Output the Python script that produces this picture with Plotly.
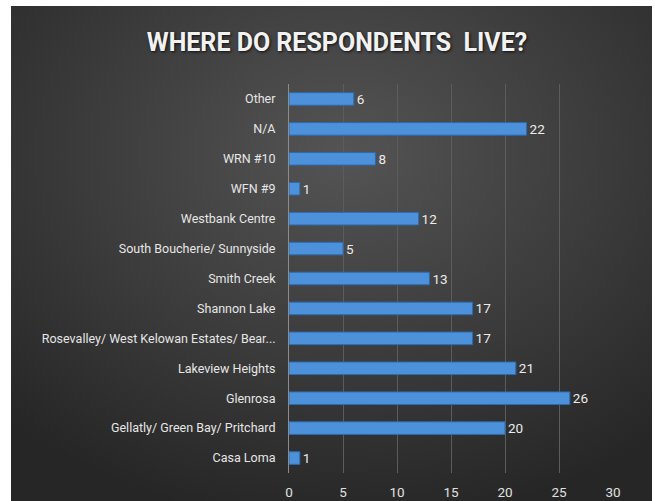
import base64
import plotly.graph_objects as go

# Survey responses by neighbourhood (top to bottom as displayed)
areas = [
    "Other",
    "N/A",
    "WRN #10",
    "WFN #9",
    "Westbank Centre",
    "South Boucherie/ Sunnyside",
    "Smith Creek",
    "Shannon Lake",
    "Rosevalley/ West Kelowan Estates/ Bear...",
    "Lakeview Heights",
    "Glenrosa",
    "Gellatly/ Green Bay/ Pritchard",
    "Casa Loma",
]
counts = [6, 22, 8, 1, 12, 5, 13, 17, 17, 21, 26, 20, 1]
x_ticks = [0, 5, 10, 15, 20, 25, 30]

W, H = 655, 501
L, R, T, B = 289, 613, 84, 473  # plot area in pixels

def px_to_paper_x(px):
    return (px - L) / (R - L)

def px_to_paper_y(py):
    return (B - py) / (B - T)

# dark radial-gradient backdrop for the chart area
svg = (
    '<svg xmlns="http://www.w3.org/2000/svg" width="641" height="495" '
    'preserveAspectRatio="none" viewBox="0 0 641 495">'
    '<defs><radialGradient id="g" cx="0.52" cy="0.3" r="0.75">'
    '<stop offset="0" stop-color="#545454"/>'
    '<stop offset="0.55" stop-color="#3b3b3b"/>'
    '<stop offset="1" stop-color="#262626"/>'
    '</radialGradient></defs>'
    '<rect width="641" height="495" fill="url(#g)"/></svg>'
)
bg_src = "data:image/svg+xml;base64," + base64.b64encode(svg.encode()).decode()

label_font = "Roboto, sans-serif"

fig = go.Figure(
    go.Bar(
        x=counts,
        y=areas,
        orientation="h",
        width=0.42,
        marker=dict(color="#4c91da", line=dict(color="#2c6bb0", width=1)),
        text=[str(c) for c in counts],
        textposition="outside",
        constraintext="none",
        textfont=dict(color="#ebebeb", size=13.5, family=label_font),
        cliponaxis=False,
        hoverinfo="x+y",
    )
)

x0, x1 = px_to_paper_x(11), px_to_paper_x(652)
y0, y1 = px_to_paper_y(6), px_to_paper_y(501)
fig.add_layout_image(
    dict(
        source=bg_src,
        xref="paper",
        yref="paper",
        x=x0,
        y=y0,
        sizex=x1 - x0,
        sizey=y0 - y1,
        xanchor="left",
        yanchor="top",
        sizing="stretch",
        layer="below",
    )
)

fig.update_layout(
    width=W,
    height=H,
    margin=dict(l=L, r=W - R, t=T, b=H - B, pad=0),
    paper_bgcolor="white",
    plot_bgcolor="rgba(0,0,0,0)",
    showlegend=False,
    bargap=0.58,
    title=dict(
        text="<b>WHERE DO RESPONDENTS  LIVE?</b>",
        x=px_to_paper_x(337),
        xref="paper",
        xanchor="center",
        y=1 - 42 / H,
        yref="container",
        yanchor="middle",
        font=dict(
            family=label_font,
            size=25,
            color="#f2f2f2",
            shadow="1px 1px 3px rgba(0,0,0,0.8)",
        ),
    ),
    xaxis=dict(
        range=[0, 30],
        tickvals=x_ticks,
        ticktext=[str(v) for v in x_ticks],
        showgrid=True,
        gridcolor="#5c5c5c",
        gridwidth=1,
        zeroline=False,
        showline=False,
        ticks="",
        ticklabelstandoff=9,
        automargin=False,
        tickfont=dict(color="#e0e0e0", size=13.5, family=label_font),
        fixedrange=True,
    ),
    yaxis=dict(
        categoryorder="array",
        categoryarray=areas[::-1],
        showgrid=False,
        showline=True,
        linecolor="#8c8c8c",
        linewidth=1,
        ticks="",
        ticklabelstandoff=10,
        automargin=False,
        tickfont=dict(color="#e6e6e6", size=12.5, family=label_font),
        fixedrange=True,
    ),
)

fig.write_html("out.html")
